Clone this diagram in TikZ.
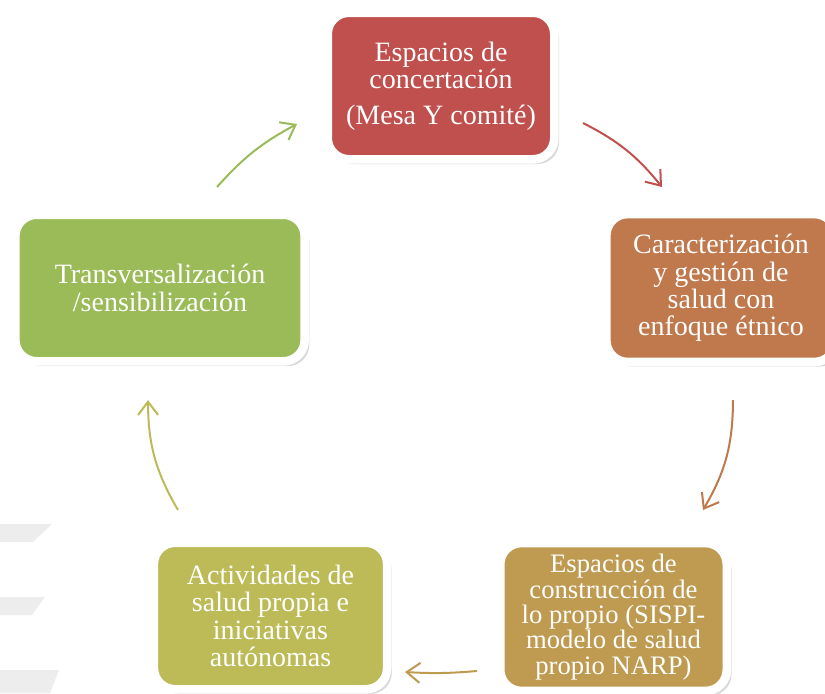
\documentclass[tikz,border=0pt]{standalone}
\usepackage{fontspec}
\setmainfont{Liberation Serif}
\usetikzlibrary{arrows.meta,shadows}

\definecolor{mesared}{RGB}{192,80,77}
\definecolor{caractbrown}{RGB}{192,120,77}
\definecolor{propiogold}{RGB}{191,155,82}
\definecolor{activolive}{RGB}{188,187,88}
\definecolor{transvgreen}{RGB}{155,187,89}

\tikzset{every picture/.style={line width=0.75pt}}
\tikzset{
  cyclebox/.style={draw=white, line width=6.5pt, rounded corners=16pt, align=center,
    text=white, inner sep=0pt, font=\fontsize{21}{20.5}\selectfont,
    drop shadow={opacity=0.3, shadow xshift=3.5pt, shadow yshift=-3.5pt}},
  cyclearrow/.style={line width=1.5pt, -{Straight Barb[length=10pt,width=15pt]}},
  stripe/.style={fill=black!7, draw=none}
}

\begin{document}
\begin{tikzpicture}[x=0.75pt,y=0.75pt,yscale=-1,xscale=1]
\useasboundingbox (0,0) rectangle (825,693);

%Shape: Stripes
\fill [stripe] (0,524) -- (52,524) -- (33,542) -- (0,542) -- cycle ;
\fill [stripe] (0,597) -- (45,597) -- (32,615) -- (0,615) -- cycle ;
\fill [stripe] (0,670) -- (59,670) -- (50,693) -- (0,693) -- cycle ;

%Shape: Rounded boxes
\node [cyclebox, fill=mesared, minimum width=170pt, minimum height=110pt] (mesa) at (441,86)
  {Espacios de\\concertación\\[6pt](Mesa Y comité)};
\node [cyclebox, fill=caractbrown, minimum width=172pt, minimum height=111pt] (caract) at (721,288)
  {Caracterización\\y gestión de\\salud con\\enfoque étnico};
\node [cyclebox, fill=propiogold, minimum width=170pt, minimum height=111pt,
  font=\fontsize{20}{19}\selectfont] (propio) at (613.5,617)
  {Espacios de\\construcción de\\lo propio (SISPI-\\modelo de salud\\propio NARP)};
\node [cyclebox, fill=activolive, minimum width=175pt, minimum height=110pt] (activ) at (270.5,616)
  {Actividades de\\salud propia e\\iniciativas\\autónomas};
\node [cyclebox, fill=transvgreen, minimum width=217pt, minimum height=110pt] (transv) at (160,288)
  {Transversalización\\/sensibilización};

%Arrow ends
\coordinate (a1s) at (217,187);  \coordinate (a1e) at (297,124);
\coordinate (a2s) at (583,123);  \coordinate (a2e) at (662,187);
\coordinate (a3s) at (733,400);  \coordinate (a3e) at (703,510);
\coordinate (a4s) at (477,671);  \coordinate (a4e) at (405,672);
\coordinate (a5s) at (178,510);  \coordinate (a5e) at (148,400);

%Curve Lines
\draw [cyclearrow, transvgreen] (a1s) to [bend right=10] (a1e) ;
\draw [cyclearrow, mesared] (a2s) to [bend right=12] (a2e) ;
\draw [cyclearrow, caractbrown] (a3s) to [bend right=15] (a3e) ;
\draw [cyclearrow, propiogold] (a4s) to [bend right=4] (a4e) ;
\draw [cyclearrow, activolive] (a5s) to [bend right=15] (a5e) ;

\end{tikzpicture}
\end{document}
